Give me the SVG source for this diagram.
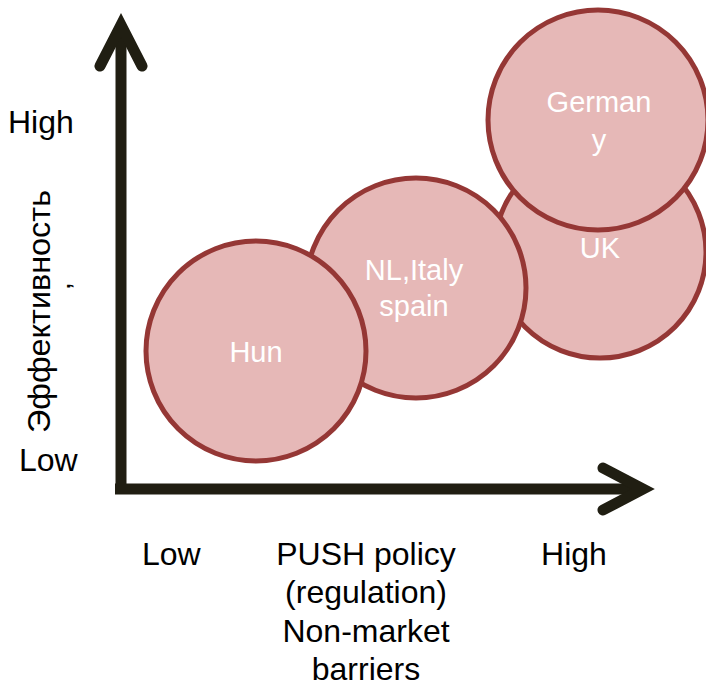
<svg xmlns="http://www.w3.org/2000/svg" width="706" height="686" viewBox="0 0 706 686">
<style>
.bub{fill:#E6B8B7;stroke:#953735;stroke-width:5}
.bt{font-family:"Liberation Sans",Arial,sans-serif;font-size:29px;fill:#ffffff;text-anchor:middle}
.lab{font-family:"Liberation Sans",Arial,sans-serif;font-size:32px;fill:#000000}
.ax{stroke:#201E12;stroke-width:11;fill:none;stroke-linecap:round;stroke-linejoin:miter}
</style>
<rect width="706" height="686" fill="#ffffff"/>
<g id="connectors">
<path class="ax" d="M121 488 L121 30" style="stroke-linecap:butt"/>
<path class="ax" d="M115 489 L638 489" style="stroke-linecap:butt"/>
<path class="ax" d="M100 66 L121 25 L142 66"/>
<path class="ax" d="M603 468 L643 489 L603 510"/>
</g>
<g id="uk"><circle class="bub" cx="600" cy="252" r="106"/><text class="bt" x="600" y="258">UK</text></g>
<g id="germany"><circle class="bub" cx="598" cy="120" r="110"/><text class="bt" x="599" y="112">German</text><text class="bt" x="599" y="150">y</text></g>
<g id="nl"><circle class="bub" cx="416" cy="288" r="110"/><text class="bt" x="414" y="280">NL,Italy</text><text class="bt" x="414" y="316">spain</text></g>
<g id="hun"><circle class="bub" cx="256" cy="351" r="110"/><text class="bt" x="256" y="362">Hun</text></g>
<g id="labels">
<text class="lab" x="8" y="133">High</text>
<text class="lab" x="19" y="471">Low</text>
<text class="lab" transform="translate(50 433) rotate(-90)" textLength="243" lengthAdjust="spacingAndGlyphs">Эффективность</text>
<text class="lab" transform="translate(70 290) rotate(-90)" style="font-size:28px">,</text>
<text class="lab" x="142" y="565">Low</text>
<text class="lab" x="574" y="565" text-anchor="middle">High</text>
<text class="lab" text-anchor="middle"><tspan x="366" y="565">PUSH policy</tspan><tspan x="366" y="603">(regulation)</tspan><tspan x="366" y="642">Non-market</tspan><tspan x="366" y="680">barriers</tspan></text>
</g>
</svg>
